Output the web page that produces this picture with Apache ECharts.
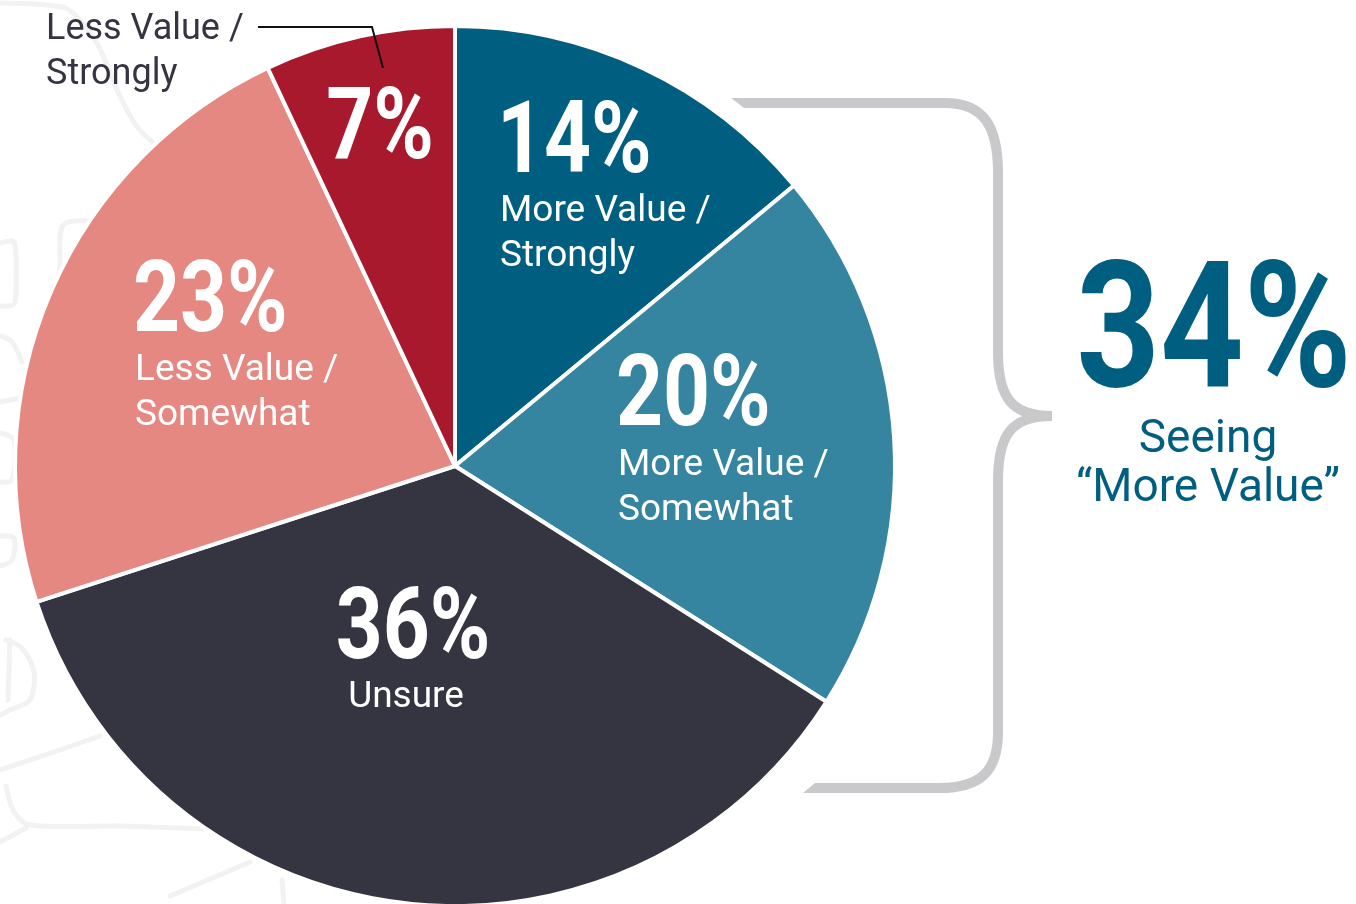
<!DOCTYPE html>
<html>
<head>
<meta charset="utf-8">
<title>More Value vs Less Value</title>
<script src="https://cdn.jsdelivr.net/npm/echarts@6/dist/echarts.min.js"></script>
<style>
  html, body { margin: 0; padding: 0; background: #ffffff; }
  #chart { width: 1356px; height: 904px; }
</style>
</head>
<body>
<div id="chart"></div>
<script>
// Survey answers, clockwise from 12 o'clock
const categories = [
  'More Value / Strongly',
  'More Value / Somewhat',
  'Unsure',
  'Less Value / Somewhat',
  'Less Value / Strongly'
];
const shares = [14, 20, 36, 23, 7];
const sliceColors = ['#005f80', '#3584a0', '#353541', '#e58882', '#a8192d'];

// Summary on the right: total of the two "More Value" answers
const summaryCaption = ['Seeing', '\u201CMore Value\u201D'];
const moreValueTotal = shares[0] + shares[1];

// In-slice name blocks (x, top y, alignment); the last slice is named outside
const nameSpots = [
  { x: 500, y: 189, align: 'left' },
  { x: 618, y: 443, align: 'left' },
  { x: 406, y: 675, align: 'center' },
  { x: 135, y: 348, align: 'left' },
  null
];
// Big percentage figures (x, vertical centre, alignment)
const figureSpots = [
  { x: 497, y: 147, align: 'left' },
  { x: 616, y: 400, align: 'left' },
  { x: 413, y: 633, align: 'center' },
  { x: 133, y: 306, align: 'left' },
  { x: 380, y: 133, align: 'center' }
];

const NUM_FONT = 'Roboto, "Liberation Sans", sans-serif';
const TEXT_FONT = 'Roboto, "Noto Sans", sans-serif';
const TEAL = '#005f80';
const BRACE = '#c9c9cb';
const SQUEEZE = 0.82;   // condensed look for the figures

function twoLines(name) {
  return name.replace(' / ', ' /\n');
}

const chart = echarts.init(document.getElementById('chart'), null, { renderer: 'canvas' });

// faint hand-drawn sketch strokes behind the pie
const sketchStrokes = [
  [[0, 3], [62, 7], [78, 18], [98, 45], [118, 92], [138, 128], [165, 152]],
  [[100, 222], [64, 224], [60, 262], [62, 300]],
  [[0, 243], [14, 242], [16, 280], [14, 304], [0, 306]],
  [[0, 336], [12, 342], [22, 362]],
  [[0, 402], [20, 398]],
  [[0, 433], [14, 440], [12, 480], [0, 482]],
  [[0, 536], [14, 538], [12, 560], [0, 566]],
  [[6, 640], [22, 648], [34, 672], [30, 700], [10, 710], [0, 715]],
  [[10, 640], [8, 700]],
  [[0, 770], [48, 754], [100, 736]],
  [[6, 786], [14, 812], [30, 825], [120, 826], [230, 830]],
  [[0, 842], [26, 828]],
  [[170, 896], [250, 862]],
  [[282, 880], [284, 904]]
];

const graphics = [];
sketchStrokes.forEach(pts => {
  graphics.push({
    type: 'polyline', z: -10, silent: true,
    shape: { points: pts, smooth: 0.3 },
    style: { stroke: '#f2f2f2', lineWidth: 5, fill: null, lineCap: 'round', lineJoin: 'round' }
  });
});

// curly brace grouping the two "More Value" slices
const braceStyle = { stroke: BRACE, lineWidth: 10, fill: null, lineCap: 'butt' };
function braceLine(x1, y1, x2, y2) {
  graphics.push({ type: 'line', z: 5, silent: true, shape: { x1, y1, x2, y2 }, style: braceStyle });
}
function braceCurve(x1, y1, c1x, c1y, c2x, c2y, x2, y2) {
  graphics.push({
    type: 'bezierCurve', z: 5, silent: true,
    shape: { x1, y1, cpx1: c1x, cpy1: c1y, cpx2: c2x, cpy2: c2y, x2, y2 },
    style: braceStyle
  });
}
function braceBar(points) {
  graphics.push({ type: 'polygon', z: 5, silent: true, shape: { points }, style: { fill: BRACE } });
}
// arms with slanted ends
braceBar([[731, 98], [946, 98], [946, 108], [744, 108]]);
braceCurve(945, 103, 985, 103, 998, 128, 998, 173);
braceLine(998, 172, 998, 353);
braceCurve(998, 352, 998, 398, 1012, 416, 1052, 416);
braceCurve(1052, 416, 1012, 416, 998, 434, 998, 481);
braceLine(998, 480, 998, 733);
braceCurve(998, 732, 998, 772, 980, 788, 939, 788);
braceBar([[815, 783], [940, 783], [940, 793], [803, 793]]);

// percentage figures inside the slices, from the share values
shares.forEach((v, i) => {
  const s = figureSpots[i];
  graphics.push({
    type: 'text', z: 20, silent: true,
    x: s.x, y: s.y, scaleX: SQUEEZE,
    style: {
      x: 0, y: 0, text: v + '%',
      font: 'bold 100px ' + NUM_FONT, fill: '#ffffff',
      align: s.align, verticalAlign: 'middle'
    }
  });
});

// outside name for the small slice, with its leader line
graphics.push({
  type: 'text', z: 6, silent: true,
  x: 46, y: 7,
  style: {
    x: 0, y: 0, text: twoLines(categories[4]),
    font: '36px ' + TEXT_FONT, fill: '#353541',
    lineHeight: 45, align: 'left', verticalAlign: 'top'
  }
});
graphics.push({
  type: 'polyline', z: 6, silent: true,
  shape: { points: [[258, 27], [372, 27], [383, 68]] },
  style: { stroke: '#111111', lineWidth: 2, fill: null }
});

// summary figure
graphics.push({
  type: 'text', z: 6, silent: true,
  x: 1214, y: 342, scaleX: 0.83,
  style: {
    x: 0, y: 0, text: moreValueTotal + '%',
    font: 'bold 176px ' + NUM_FONT, fill: TEAL,
    align: 'center', verticalAlign: 'middle'
  }
});
graphics.push({
  type: 'text', z: 6, silent: true,
  style: {
    x: 1208, y: 465, text: summaryCaption.join('\n'),
    font: '46px ' + TEXT_FONT, fill: TEAL, lineHeight: 49,
    align: 'center', verticalAlign: 'middle'
  }
});

const option = {
  animation: false,
  backgroundColor: '#ffffff',
  graphic: graphics,
  series: [{
    type: 'pie',
    center: [455, 466],
    radius: [0, 440],
    startAngle: 90,
    clockwise: true,
    avoidLabelOverlap: false,
    silent: true,
    itemStyle: { borderColor: '#ffffff', borderWidth: 4 },
    label: {
      show: true,
      position: 'inside',
      color: '#ffffff',
      fontFamily: TEXT_FONT,
      fontSize: 37,
      lineHeight: 45,
      formatter: function (p) {
        return nameSpots[p.dataIndex] ? twoLines(p.name) : '';
      }
    },
    labelLine: { show: false },
    labelLayout: function (params) {
      const s = nameSpots[params.dataIndex];
      if (!s) return {};
      return { x: s.x, y: s.y, align: s.align, verticalAlign: 'top' };
    },
    data: categories.map((name, i) => ({
      name: name,
      value: shares[i],
      itemStyle: { color: sliceColors[i] }
    }))
  }]
};

chart.setOption(option);
</script>
</body>
</html>
